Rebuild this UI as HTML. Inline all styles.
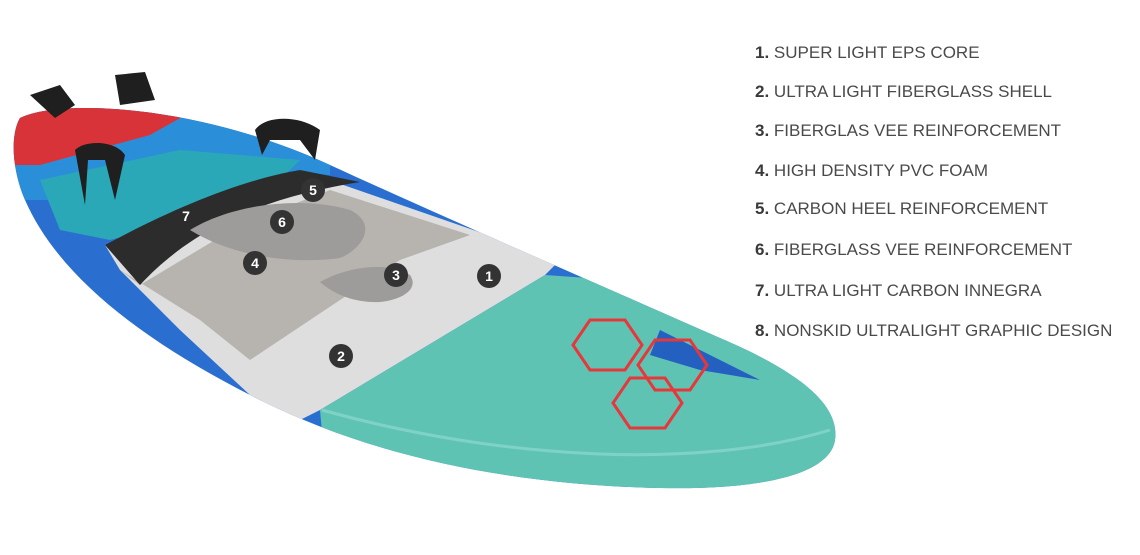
<!DOCTYPE html>
<html><head><meta charset="utf-8"><style>
html,body{margin:0;padding:0;background:#fff;}
body{width:1140px;height:555px;position:relative;overflow:hidden;font-family:"Liberation Sans",sans-serif;}
.l{position:absolute;left:755px;font-size:17px;color:#4a4a4a;white-space:nowrap;}
.l b{color:#3a3a3a;}
</style></head><body>
<svg width="1140" height="555" style="position:absolute;left:0;top:0">
<defs>
<clipPath id="bd"><path d="M20,118 C60,98 200,105 330,165 C450,220 600,285 720,338 C800,372 840,405 835,440 C830,475 760,490 660,488 C520,485 380,460 260,400 C150,345 60,280 25,200 C12,170 10,135 20,118 Z"/></clipPath>
</defs>
<path d="M20,118 C60,98 200,105 330,165 C450,220 600,285 720,338 C800,372 840,405 835,440 C830,475 760,490 660,488 C520,485 380,460 260,400 C150,345 60,280 25,200 C12,170 10,135 20,118 Z" fill="#2a6fd0"/>
<g clip-path="url(#bd)">
<path d="M0,95 L330,95 L330,175 L160,160 L60,200 L0,200Z" fill="#2a8fd8"/>
<path d="M0,90 L230,90 L150,135 L40,165 L0,165Z" fill="#d9333a"/>
<path d="M40,180 L180,150 L300,160 L260,200 L110,240 L60,230Z" fill="#2aa8b8"/>
<path d="M105,245 L300,170 L560,260 L545,275 L320,410 L300,420 L250,395 L180,330 L120,270Z" fill="#dedede"/>
<path d="M120,270 L140,285 L240,225 L330,190 L470,235 L400,260 L250,360 L200,320Z" fill="#b7b3ae"/>
<path d="M105,245 C170,210 240,180 300,170 L360,182 C280,195 200,220 140,285 Z" fill="#2c2c2c"/>
<path d="M190,230 C230,205 300,195 350,210 C380,225 360,250 340,258 C290,265 230,255 190,230Z" fill="#9d9c9a"/>
<path d="M320,282 C350,265 390,262 410,275 C420,290 400,300 380,302 C355,303 335,295 320,282Z" fill="#9d9c9a"/>
<path d="M320,410 L545,275 L900,300 L900,520 L330,520Z" fill="#5fc3b4"/>
<path d="M660,330 L760,380 L700,370 L650,355Z" fill="#2460c0"/>
<g fill="none" stroke="#e8373a" stroke-width="3">
<polygon points="590,320 625,320 642,345 625,370 590,370 573,345"/>
<polygon points="655,340 690,340 707,365 690,390 655,390 638,365"/>
<polygon points="630,378 665,378 682,403 665,428 630,428 613,403"/>
</g>
</g>
<path d="M322,410 C500,460 700,470 830,430" fill="none" stroke="#7fd3c6" stroke-width="3"/>
<g fill="#1f1f1f">
<path d="M30,95 L60,85 L75,105 L55,118 Z"/><path d="M115,75 L145,72 L155,100 L120,105Z"/>
<path d="M255,130 C265,115 300,115 320,130 L315,160 L300,140 L270,140 L262,155Z"/>
<path d="M75,150 C85,140 115,140 125,155 L115,200 L105,160 L88,160 L85,205Z"/>
</g>
<g font-family="Liberation Sans" font-weight="bold" font-size="14" fill="#fff" text-anchor="middle">
<circle cx="313" cy="190" r="12" fill="#333"/><text x="313" y="195">5</text>
<circle cx="282" cy="222" r="12" fill="#333"/><text x="282" y="227">6</text>
<text x="186" y="221">7</text>
<circle cx="255" cy="263" r="12" fill="#333"/><text x="255" y="268">4</text>
<circle cx="396" cy="275" r="12" fill="#333"/><text x="396" y="280">3</text>
<circle cx="489" cy="276" r="12" fill="#333"/><text x="489" y="281">1</text>
<circle cx="341" cy="356" r="12" fill="#333"/><text x="341" y="361">2</text>
</g>
</svg>
<div class="l" style="top:43px"><b>1.</b> SUPER LIGHT EPS CORE</div>
<div class="l" style="top:82px"><b>2.</b> ULTRA LIGHT FIBERGLASS SHELL</div>
<div class="l" style="top:121px"><b>3.</b> FIBERGLAS VEE REINFORCEMENT</div>
<div class="l" style="top:161px"><b>4.</b> HIGH DENSITY PVC FOAM</div>
<div class="l" style="top:199px"><b>5.</b> CARBON HEEL REINFORCEMENT</div>
<div class="l" style="top:240px"><b>6.</b> FIBERGLASS VEE REINFORCEMENT</div>
<div class="l" style="top:281px"><b>7.</b> ULTRA LIGHT CARBON INNEGRA</div>
<div class="l" style="top:321px"><b>8.</b> NONSKID ULTRALIGHT GRAPHIC DESIGN</div>
</body></html>
